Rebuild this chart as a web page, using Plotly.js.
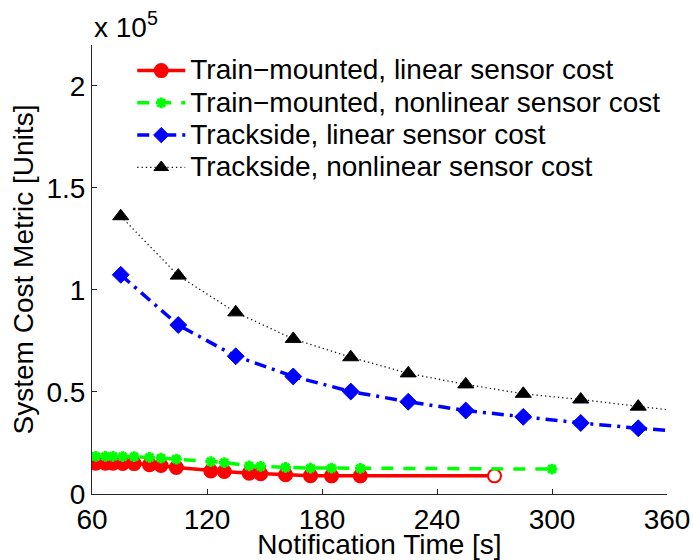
<!DOCTYPE html>
<html>
<head>
<meta charset="utf-8">
<script src="https://cdn.plot.ly/plotly-3.0.1.min.js"></script>
<style>html,body{margin:0;padding:0;background:#fff;}#chart{width:693px;height:560px;}</style>
</head>
<body>
<div id="chart"></div>
<script>
// Train-mounted series (notification time in s, cost in units)
const trainTimes = [62, 67, 71, 76, 82, 90, 96, 104, 122, 129, 142, 148, 161, 174, 185, 200];
const trainLinearCost = [15100, 15100, 15100, 15000, 14900, 14300, 14000, 13000, 11300, 11000, 10200, 9900, 9400, 9000, 8900, 8900];
const trainLinearEndTime = 270;
const trainLinearEndCost = 8900;
const trainNonlinearCost = [18400, 18400, 18400, 18300, 18300, 17900, 17600, 17100, 15900, 15400, 13800, 13500, 13000, 12700, 12700, 12600];
const trainNonlinearEndTime = 300;
const trainNonlinearEndCost = 12200;

// Trackside series
const tracksideTimes = [75, 105, 135, 165, 195, 225, 255, 285, 315, 345, 360];
const tracksideLinearCost = [107400, 82800, 67500, 57600, 50200, 45200, 40900, 37800, 34800, 32200, 31200];
const tracksideNonlinearCost = [136100, 107000, 89000, 76000, 67000, 59100, 53700, 49100, 46300, 42800, 41300];
const tracksideMarkerCount = 10;

const seriesNames = [
  'Train\u2212mounted, linear sensor cost',
  'Train\u2212mounted, nonlinear sensor cost',
  'Trackside, linear sensor cost',
  'Trackside, nonlinear sensor cost'
];
const xTickVals = [60, 120, 180, 240, 300, 360];
const yTickVals = [0, 50000, 100000, 150000, 200000];
const yTickText = ['0', '0.5', '1', '1.5', '2'];

const big = (s) => '<span style="font-size:28px">' + s + '</span>';
const redX = trainTimes.concat([trainLinearEndTime]);
const redY = trainLinearCost.concat([trainLinearEndCost]);
const redFill = redX.map((_, i) => i === redX.length - 1 ? '#ffffff' : '#ff0000');
const greenX = trainTimes.concat([trainNonlinearEndTime]);
const greenY = trainNonlinearCost.concat([trainNonlinearEndCost]);
const trackSizes = (sz) => tracksideTimes.map((_, i) => i < tracksideMarkerCount ? sz : 0);

const traces = [
  {x: redX, y: redY, name: big(seriesNames[0]), mode: 'lines+markers',
   line: {color: '#ff0000', width: 3.5},
   marker: {symbol: 'circle', size: 13, opacity: 1, color: redFill, line: {color: '#ff0000', width: 2}}},
  {x: greenX, y: greenY, name: big(seriesNames[1]), mode: 'lines+markers',
   line: {color: '#00ff00', width: 3.5, dash: '12px,10px'},
   marker: {symbol: 'asterisk-open', size: 9, opacity: 1, color: '#00ff00', line: {color: '#00ff00', width: 3}}},
  {x: tracksideTimes, y: tracksideLinearCost, name: big(seriesNames[2]), mode: 'lines+markers',
   line: {color: '#0000ff', width: 3.5, dash: '12px,6px,3px,6px'},
   marker: {symbol: 'diamond', size: trackSizes(13), opacity: 1, color: '#0000ff', line: {color: '#0000ff', width: 1}}},
  {x: tracksideTimes, y: tracksideNonlinearCost, name: big(seriesNames[3]), mode: 'lines+markers',
   line: {color: '#111111', width: 1.3, dash: '1.3px,3px'},
   marker: {symbol: 'triangle-up', size: trackSizes(14), opacity: 1, color: '#000000', line: {color: '#000000', width: 1}}}
];

const layout = {
  width: 693, height: 560,
  margin: {l: 92, r: 26, t: 45, b: 66},
  paper_bgcolor: '#ffffff', plot_bgcolor: '#ffffff',
  font: {family: 'Liberation Sans, Arial, sans-serif', size: 28, color: '#000000'},
  showlegend: true,
  legend: {x: 0.07, y: 0.99, xanchor: 'left', yanchor: 'top', bgcolor: 'rgba(0,0,0,0)',
           borderwidth: 0, font: {size: 22.5}, tracegroupgap: 0, itemwidth: 48},
  xaxis: {range: [60, 360], tickvals: xTickVals, ticks: 'inside', ticklen: 5, tickcolor: '#262626',
          showline: true, linecolor: '#262626', linewidth: 1, showgrid: false, zeroline: false,
          mirror: false, tickfont: {size: 28},
          title: {text: 'Notification Time [s]', font: {size: 28}, standoff: 0}},
  yaxis: {range: [0, 220000], tickvals: yTickVals, ticktext: yTickText, ticks: 'inside', ticklen: 5,
          tickcolor: '#262626', showline: true, linecolor: '#262626', linewidth: 1, showgrid: false,
          zeroline: false, tickfont: {size: 28},
          title: {text: 'System Cost Metric [Units]', font: {size: 28}, standoff: 4}},
  annotations: [
    {xref: 'paper', yref: 'paper', x: 0, y: 1, xanchor: 'left', yanchor: 'bottom', yshift: 0,
     showarrow: false, text: 'x 10<sup>5</sup>', font: {size: 28}}
  ]
};

Plotly.newPlot('chart', traces, layout, {displayModeBar: false, staticPlot: true});
</script>
</body>
</html>
